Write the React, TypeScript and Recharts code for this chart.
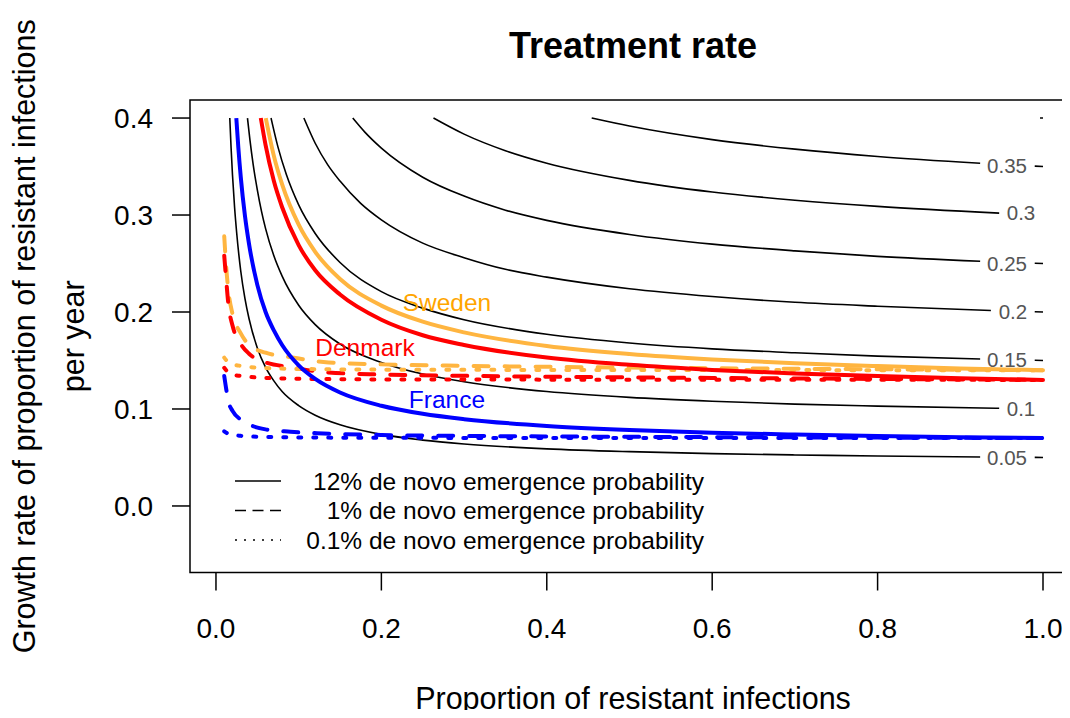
import React from "react";
import {
  ComposedChart,
  Line,
  XAxis,
  YAxis,
  Scatter,
  ReferenceArea,
  Legend,
} from "recharts";

const FONT = '"Liberation Sans", Arial, Helvetica, sans-serif';

// black contour lines of treatment rate (null = gap for the level label)
const c005x = [0.0167, 0.0183, 0.02, 0.0225, 0.025, 0.03, 0.035, 0.04, 0.05, 0.06, 0.07, 0.08, 0.1, 0.12, 0.15, 0.2, 0.25, 0.3, 0.4, 0.5, 0.6, 0.7, 0.8, 0.924, 0.95, 0.99, 1];
const c005y = [0.4, 0.369, 0.341, 0.308, 0.282, 0.242, 0.214, 0.193, 0.163, 0.143, 0.129, 0.118, 0.1035, 0.0936, 0.0837, 0.0738, 0.0679, 0.0639, 0.0589, 0.056, 0.054, 0.0526, 0.0515, 0.0505, null, 0.0501, 0.05];

const c010x = [0.0381, 0.041, 0.045, 0.05, 0.055, 0.06, 0.07, 0.08, 0.1, 0.12, 0.15, 0.2, 0.25, 0.3, 0.4, 0.5, 0.6, 0.7, 0.8, 0.947];
const c010y = [0.4, 0.378, 0.352, 0.326, 0.304, 0.286, 0.258, 0.237, 0.207, 0.187, 0.167, 0.148, 0.136, 0.128, 0.118, 0.112, 0.108, 0.105, 0.103, 0.1007];

const c015x = [0.0666, 0.075, 0.085, 0.1, 0.12, 0.15, 0.2, 0.25, 0.3, 0.4, 0.5, 0.6, 0.7, 0.8, 0.924, 0.95, 0.99, 1];
const c015y = [0.4, 0.37, 0.342, 0.3105, 0.281, 0.251, 0.221, 0.204, 0.192, 0.177, 0.168, 0.162, 0.158, 0.1545, 0.1515, null, 0.1502, 0.15];

const c020x = [0.1063, 0.12, 0.135, 0.15, 0.175, 0.2, 0.25, 0.3, 0.35, 0.4, 0.5, 0.6, 0.7, 0.8, 0.937, 0.96, 0.99, 1];
const c020y = [0.4, 0.374, 0.352, 0.335, 0.312, 0.295, 0.271, 0.256, 0.244, 0.236, 0.224, 0.216, 0.21, 0.206, 0.2016, null, 0.2003, 0.2];

const c025x = [0.1654, 0.18, 0.2, 0.25, 0.3, 0.35, 0.4, 0.5, 0.6, 0.7, 0.8, 0.924, 0.95, 0.99, 1];
const c025y = [0.4, 0.3855, 0.369, 0.339, 0.3195, 0.305, 0.2945, 0.28, 0.27, 0.263, 0.2574, 0.2524, null, 0.2503, 0.25];

const c030x = [0.263, 0.3, 0.35, 0.4, 0.5, 0.6, 0.7, 0.8, 0.947];
const c030y = [0.4, 0.3834, 0.3663, 0.3534, 0.3357, 0.3237, 0.3153, 0.3089, 0.302];

const c035x = [0.4543, 0.5, 0.6, 0.7, 0.8, 0.924, 0.95, 0.99, 1];
const c035y = [0.4, 0.3917, 0.3777, 0.3679, 0.3604, 0.3534, null, 0.3504, 0.35];

const c040x = [0.9964, 1];
const c040y = [0.4, 0.4];

const contourLabels = ["0.35", "0.3", "0.25", "0.2", "0.15", "0.1", "0.05"];
const contourLabelX = [0.9565, 0.9734, 0.9565, 0.9637, 0.9565, 0.9734, 0.9565];
const contourLabelY = [0.3515, 0.3021, 0.2505, 0.201, 0.1515, 0.1, 0.0495];

// 12% de novo emergence (solid)
const blueSolidX = [0.0246, 0.027, 0.03, 0.035, 0.04, 0.05, 0.06, 0.07, 0.08, 0.1, 0.12, 0.15, 0.2, 0.25, 0.3, 0.4, 0.5, 0.6, 0.7, 0.8, 0.9, 1];
const blueSolidY = [0.4, 0.37, 0.339, 0.2995, 0.27, 0.228, 0.2, 0.181, 0.166, 0.145, 0.131, 0.117, 0.1033, 0.095, 0.0895, 0.0825, 0.0783, 0.0755, 0.0736, 0.0721, 0.0709, 0.07];
const redSolidX = [0.0542, 0.06, 0.07, 0.08, 0.1, 0.12, 0.15, 0.2, 0.25, 0.3, 0.4, 0.5, 0.6, 0.7, 0.8, 0.9, 1];
const redSolidY = [0.4, 0.372, 0.335, 0.308, 0.269, 0.243, 0.218, 0.192, 0.176, 0.166, 0.153, 0.1455, 0.1403, 0.1366, 0.1339, 0.1317, 0.13];
const orangeSolidX = [0.0602, 0.07, 0.08, 0.1, 0.12, 0.15, 0.2, 0.25, 0.3, 0.4, 0.5, 0.6, 0.7, 0.8, 0.9, 1];
const orangeSolidY = [0.4, 0.361, 0.3315, 0.29, 0.262, 0.234, 0.2066, 0.19, 0.179, 0.165, 0.1567, 0.1511, 0.1471, 0.1442, 0.1418, 0.14];

// 1% de novo emergence (dashed)
const dashedX = [0.01, 0.0125, 0.015, 0.02, 0.03, 0.04, 0.06, 0.09, 0.13, 0.2, 0.3, 0.4, 0.6, 0.8, 1];
const orangeDashedY = [0.278, 0.245, 0.222, 0.198, 0.178, 0.166, 0.158, 0.1535, 0.1485, 0.146, 0.1445, 0.1435, 0.142, 0.141, 0.14];
const redDashedY = [0.258, 0.232, 0.208, 0.186, 0.167, 0.157, 0.148, 0.1432, 0.138, 0.1355, 0.1342, 0.1333, 0.132, 0.131, 0.13];
const blueDashedY = [0.134, 0.12, 0.108, 0.098, 0.089, 0.084, 0.079, 0.0765, 0.0748, 0.0732, 0.0722, 0.0717, 0.071, 0.0705, 0.07];

// 0.1% de novo emergence (dotted)
const dottedX = [0.01, 0.015, 0.02, 0.03, 0.05, 0.1, 0.2, 0.5, 1];
const orangeDottedY = [0.153, 0.148, 0.1462, 0.1444, 0.1427, 0.1413, 0.1406, 0.1402, 0.14];
const redDottedY = [0.1425, 0.1375, 0.1355, 0.1341, 0.1325, 0.1312, 0.1305, 0.1302, 0.13];
const blueDottedY = [0.077, 0.0743, 0.0733, 0.0723, 0.0714, 0.0707, 0.0703, 0.0701, 0.07];

const countries = ["Sweden", "Denmark", "France"];
const countryColors = ["#FFA500", "#FF0000", "#0000FF"];
const countryLabelX = [0.2793, 0.1802, 0.2793];
const countryLabelY = [0.2103, 0.1639, 0.1093];

const legendLabels = [
  "12% de novo emergence probability",
  "1% de novo emergence probability",
  "0.1% de novo emergence probability",
];

const xTicks = [0, 0.2, 0.4, 0.6, 0.8, 1];
const yTicks = [0, 0.1, 0.2, 0.3, 0.4];

const pts = (xs: number[], ys: (number | null)[]) =>
  xs.map((x, i) => ({ x, y: ys[i] }));

const contours = [
  pts(c005x, c005y),
  pts(c010x, c010y),
  pts(c015x, c015y),
  pts(c020x, c020y),
  pts(c025x, c025y),
  pts(c030x, c030y),
  pts(c035x, c035y),
  pts(c040x, c040y),
];

const ORANGE = "#FFB540";
const RED = "#FF0000";
const BLUE = "#0000FF";
const DASH = "15 16";
const DOT = "3 12";

const contourLabelData = contourLabels.map((t, i) => ({
  x: contourLabelX[i],
  y: contourLabelY[i],
  text: t,
}));
const countryLabelData = countries.map((t, i) => ({
  x: countryLabelX[i],
  y: countryLabelY[i],
  text: t,
  color: countryColors[i],
}));

function LegendBox() {
  const dashes = [undefined, "11 6.5", "2 7"];
  return (
    <svg width={500} height={100} style={{ overflow: "visible" }}>
      {legendLabels.map((t, i) => (
        <g key={t}>
          <line
            x1={15}
            x2={61}
            y1={21 + i * 29.5}
            y2={21 + i * 29.5}
            stroke="#000"
            strokeWidth={1.5}
            strokeDasharray={dashes[i]}
          />
          <text
            x={484}
            y={21 + i * 29.5}
            textAnchor="end"
            dominantBaseline="central"
            fontSize={24.5}
            fontFamily={FONT}
            fill="#000"
          >
            {t}
          </text>
        </g>
      ))}
    </svg>
  );
}

export default function App() {
  return (
    <div
      style={{
        position: "relative",
        width: 1070,
        height: 718,
        margin: -8,
        overflow: "hidden",
        background: "#fff",
      }}
    >
      <svg
        width={1070}
        height={80}
        style={{ position: "absolute", left: 0, top: 0 }}
      >
        <text
          x={633}
          y={58}
          textAnchor="middle"
          fontSize={36}
          fontWeight="bold"
          fontFamily={FONT}
        >
          Treatment rate
        </text>
      </svg>
      <ComposedChart
        width={1080}
        height={718}
        margin={{ top: 100, right: 4, left: 100, bottom: 85.5 }}
      >
        <XAxis
          dataKey="x"
          type="number"
          domain={[-0.0314, 1.0399]}
          allowDataOverflow
          ticks={xTicks}
          interval={0}
          tickFormatter={(v: number) => v.toFixed(1)}
          axisLine={false}
          tickSize={18}
          tickMargin={28}
          height={60}
          tickLine={{ stroke: "#000", strokeWidth: 1.5 }}
          tick={{ fontSize: 28, fill: "#000", fontFamily: FONT }}
          label={(p: any) => (
            <text
              x={p.viewBox.x + p.viewBox.width / 2}
              y={709}
              textAnchor="middle"
              fontSize={30.5}
              fontFamily={FONT}
              fill="#000"
            >
              Proportion of resistant infections
            </text>
          )}
        />
        <YAxis
          dataKey="y"
          type="number"
          domain={[-0.0686, 0.4186]}
          allowDataOverflow
          ticks={yTicks}
          interval={0}
          tickFormatter={(v: number) => v.toFixed(1)}
          axisLine={false}
          tickSize={18}
          tickMargin={19}
          width={90}
          tickLine={{ stroke: "#000", strokeWidth: 1.5 }}
          tick={{ fontSize: 28, fill: "#000", fontFamily: FONT }}
          label={(p: any) => {
            const cy = p.viewBox.y + p.viewBox.height / 2;
            return (
              <g fontSize={30.5} fontFamily={FONT} fill="#000">
                <text
                  x={35}
                  y={cy}
                  textAnchor="middle"
                  transform={`rotate(-90, 35, ${cy})`}
                >
                  Growth rate of proportion of resistant infections
                </text>
                <text
                  x={84}
                  y={cy}
                  textAnchor="middle"
                  transform={`rotate(-90, 84, ${cy})`}
                >
                  per year
                </text>
              </g>
            );
          }}
        />
        <ReferenceArea
          x1={-0.0314}
          x2={1.0399}
          y1={-0.0686}
          y2={0.4186}
          ifOverflow="visible"
          fill="none"
          stroke="#000"
          strokeWidth={1.5}
        />
        <Legend
          verticalAlign="middle"
          layout="horizontal"
          wrapperStyle={{ left: 220, top: 460, width: 500, height: 100 }}
          content={() => <LegendBox />}
        />

        {contours.map((d, i) => (
          <Line
            key={"c" + i}
            data={d}
            dataKey="y"
            type="monotone"
            stroke="#000"
            strokeWidth={1.6}
            dot={false}
            connectNulls={false}
            isAnimationActive={false}
            legendType="none"
          />
        ))}

        <Line data={pts(dashedX, orangeDashedY)} dataKey="y" type="monotone" stroke={ORANGE} strokeWidth={4} strokeDasharray={DASH} strokeLinecap="round" dot={false} isAnimationActive={false} />
        <Line data={pts(dashedX, redDashedY)} dataKey="y" type="monotone" stroke={RED} strokeWidth={4} strokeDasharray={DASH} strokeLinecap="round" dot={false} isAnimationActive={false} />
        <Line data={pts(dashedX, blueDashedY)} dataKey="y" type="monotone" stroke={BLUE} strokeWidth={4} strokeDasharray={DASH} strokeLinecap="round" dot={false} isAnimationActive={false} />

        <Line data={pts(dottedX, orangeDottedY)} dataKey="y" type="monotone" stroke={ORANGE} strokeWidth={4} strokeDasharray={DOT} strokeLinecap="round" dot={false} isAnimationActive={false} />
        <Line data={pts(dottedX, redDottedY)} dataKey="y" type="monotone" stroke={RED} strokeWidth={4} strokeDasharray={DOT} strokeLinecap="round" dot={false} isAnimationActive={false} />
        <Line data={pts(dottedX, blueDottedY)} dataKey="y" type="monotone" stroke={BLUE} strokeWidth={4} strokeDasharray={DOT} strokeLinecap="round" dot={false} isAnimationActive={false} />

        <Line data={pts(blueSolidX, blueSolidY)} dataKey="y" type="monotone" stroke={BLUE} strokeWidth={4} dot={false} isAnimationActive={false} />
        <Line data={pts(redSolidX, redSolidY)} dataKey="y" type="monotone" stroke={RED} strokeWidth={4} dot={false} isAnimationActive={false} />
        <Line data={pts(orangeSolidX, orangeSolidY)} dataKey="y" type="monotone" stroke={ORANGE} strokeWidth={4} dot={false} isAnimationActive={false} />

        <Scatter
          data={contourLabelData}
          dataKey="y"
          isAnimationActive={false}
          shape={(p: any) => (
            <text
              x={p.cx}
              y={p.cy}
              textAnchor="middle"
              dominantBaseline="central"
              fontSize={20.5}
              fontFamily={FONT}
              fill="#555"
            >
              {p.payload.text}
            </text>
          )}
        />
        <Scatter
          data={countryLabelData}
          dataKey="y"
          isAnimationActive={false}
          shape={(p: any) => (
            <text
              x={p.cx}
              y={p.cy}
              textAnchor="middle"
              dominantBaseline="central"
              fontSize={24.5}
              fontFamily={FONT}
              fill={p.payload.color}
            >
              {p.payload.text}
            </text>
          )}
        />
      </ComposedChart>
    </div>
  );
}
